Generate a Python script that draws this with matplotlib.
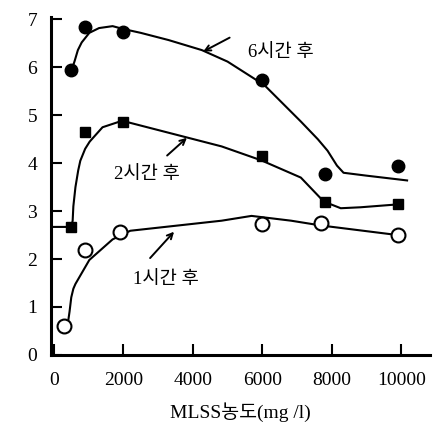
import matplotlib
matplotlib.use('Agg')
import matplotlib.pyplot as plt
import numpy as np

plt.rcParams['font.family'] = ['Liberation Serif', 'Noto Sans CJK KR']

# measured points
x_6h = [500, 900, 2000, 6000, 7800, 9900]
y_6h = [5.95, 6.85, 6.74, 5.74, 3.78, 3.94]
x_2h = [500, 900, 2000, 6000, 7800, 9900]
y_2h = [2.67, 4.65, 4.87, 4.16, 3.18, 3.14]
x_1h = [300, 900, 1900, 6000, 7700, 9900]
y_1h = [0.6, 2.18, 2.57, 2.73, 2.75, 2.5]

# hand-drawn trend curves (traced)
cx_6h = [500, 560, 600, 690, 800, 1020, 1300, 1690, 2000, 2500, 3300, 4260, 5000, 6060, 7110, 7600, 7880, 8150, 8340, 9000, 10170]
cy_6h = [5.95, 6.05, 6.14, 6.36, 6.52, 6.72, 6.82, 6.86, 6.8, 6.72, 6.57, 6.36, 6.12, 5.63, 4.87, 4.5, 4.26, 3.95, 3.8, 3.74, 3.64]
cx_2h = [0, 500, 540, 560, 620, 700, 760, 900, 1030, 1400, 1900, 2100, 4830, 5970, 7110, 7770, 8260, 8830, 9900]
cy_2h = [2.67, 2.67, 2.8, 3.1, 3.5, 3.85, 4.05, 4.3, 4.45, 4.75, 4.87, 4.86, 4.35, 4.06, 3.7, 3.2, 3.06, 3.08, 3.14]
cx_1h = [420, 450, 500, 560, 620, 1020, 1690, 2200, 4830, 5690, 6830, 7690, 9900]
cy_1h = [0.75, 0.9, 1.2, 1.38, 1.48, 1.98, 2.41, 2.59, 2.8, 2.9, 2.8, 2.7, 2.5]

xticks = [0, 2000, 4000, 6000, 8000, 10000]
yticks = [0, 1, 2, 3, 4, 5, 6, 7]

fig = plt.figure(figsize=(4.37, 4.26), dpi=100)
ax = fig.add_axes([0.117, 0.167, 0.867, 0.793])

ax.plot(cx_6h, cy_6h, color='black', lw=1.5)
ax.plot(cx_2h, cy_2h, color='black', lw=1.5)
ax.plot(cx_1h, cy_1h, color='black', lw=1.5)

ax.plot(x_6h, y_6h, 'o', color='black', ms=9, ls='none')
ax.plot(x_2h, y_2h, 's', color='black', ms=7.5, ls='none')
ax.plot(x_1h, y_1h, 'o', mfc='white', mec='black', mew=1.5, ms=10, ls='none')

# labels and arrows
arrow = dict(arrowstyle='->', color='black', lw=1.4, shrinkA=0, shrinkB=0)
ax.text(5600, 6.3, '6시간 후', fontsize=13.5, va='center', ha='left')
ax.annotate('', xy=(4300, 6.33), xytext=(5060, 6.62), arrowprops=arrow)
ax.text(2690, 3.76, '2시간 후', fontsize=13.5, va='center', ha='center')
ax.annotate('', xy=(3830, 4.53), xytext=(3260, 4.16), arrowprops=arrow)
ax.text(3230, 1.57, '1시간 후', fontsize=13.5, va='center', ha='center')
ax.annotate('', xy=(3460, 2.57), xytext=(2770, 2.02), arrowprops=arrow)

ax.set_xlim(-80, 10830)
ax.set_ylim(0, 7.05)
ax.set_xticks(xticks)
ax.set_yticks(yticks)
ax.tick_params(direction='in', length=8, width=1.5, labelsize=14)
ax.tick_params(axis='y', pad=10)
ax.tick_params(axis='x', pad=12)
for s in ['top', 'right']:
    ax.spines[s].set_visible(False)
for s in ['left', 'bottom']:
    ax.spines[s].set_linewidth(2.2)
ax.set_xlabel('MLSS농도(mg /l)', fontsize=14, labelpad=10)

plt.savefig('out.png', dpi=100)
